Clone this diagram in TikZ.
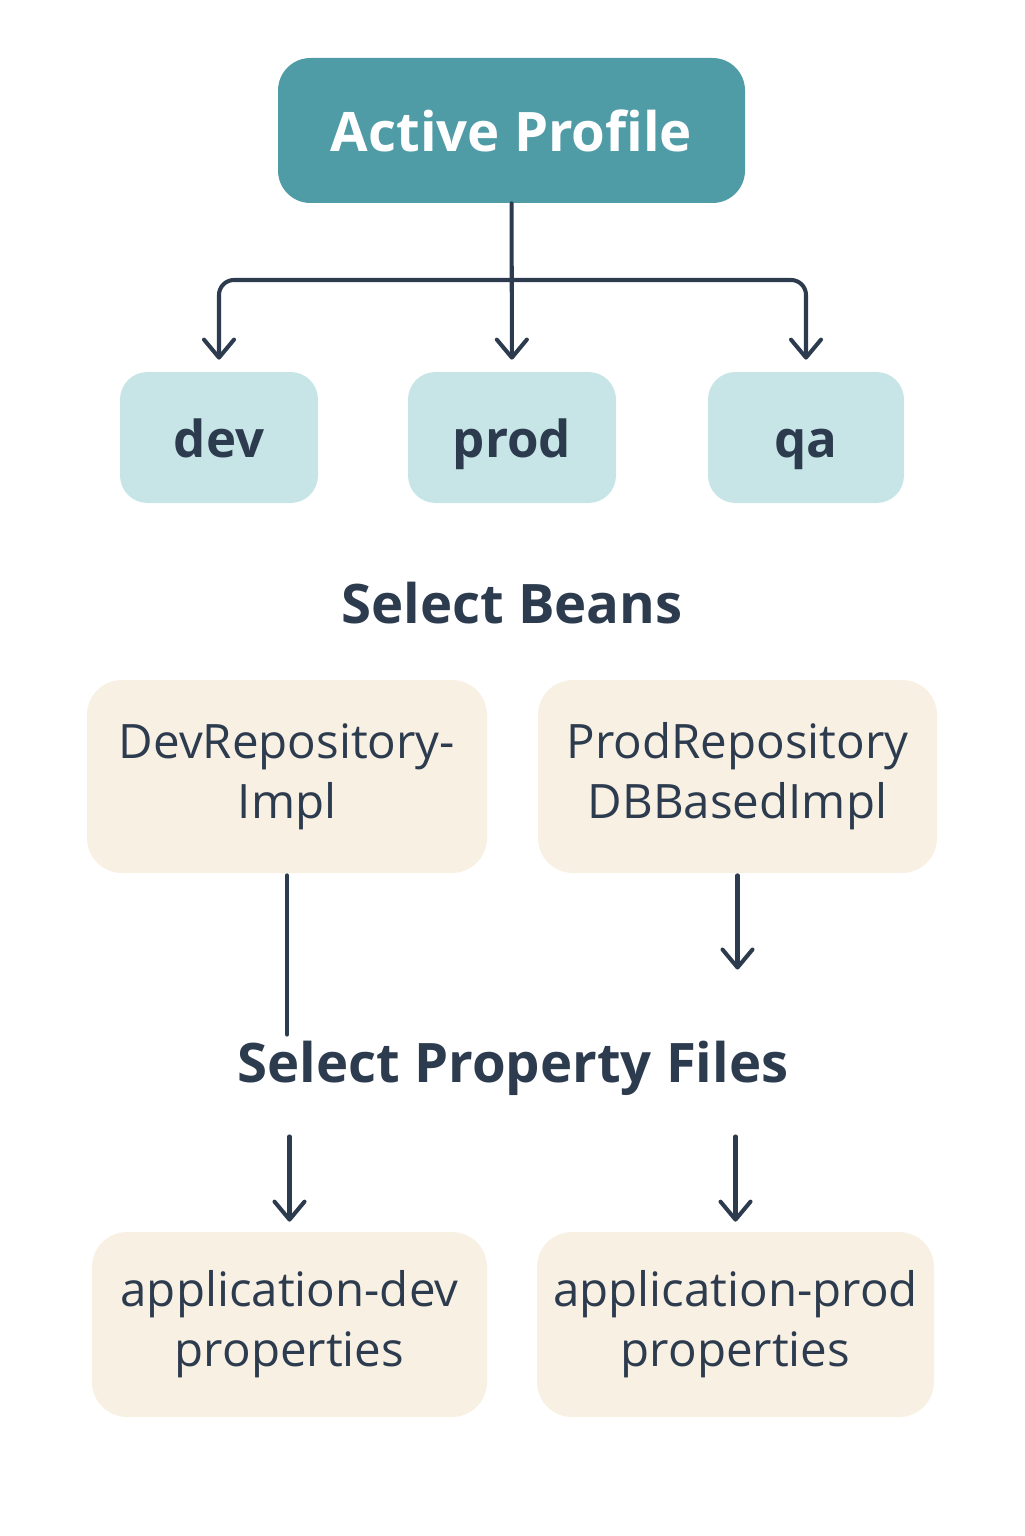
\documentclass[tikz,border=0pt]{standalone}
\usepackage{fontspec}
\setmainfont{Open Sans}
\usepackage{tikz}
\usetikzlibrary{positioning,arrows.meta}

\definecolor{tealbox}{HTML}{4F9BA6}
\definecolor{lightteal}{HTML}{C7E5E6}
\definecolor{creambox}{HTML}{F8F0E3}
\definecolor{inkline}{HTML}{2D3B4E}

\begin{document}
\begin{tikzpicture}[>={Straight Barb[length=3.6mm,width=6mm,line cap=round,line join=round]},
  every node/.style={text=inkline},
  profbox/.style={rounded corners=0.55cm, fill=lightteal, minimum height=2.62cm, text height=0.95cm, text depth=0.17cm, font=\fontsize{29}{34}\selectfont\bfseries},
  beanbox/.style={rounded corners=0.7cm, fill=creambox, minimum width=8cm, minimum height=3.86cm, align=center, font=\fontsize{27}{34}\selectfont},
  heading/.style={font=\fontsize{31}{36}\selectfont\bfseries},
  link/.style={draw=inkline, line width=2.3pt, line cap=round}]
  \useasboundingbox (0,0) rectangle (20.48,-30.72);
  \node[rounded corners=0.65cm, fill=tealbox, text=white, minimum width=9.34cm, minimum height=2.9cm, font=\fontsize{31}{36}\selectfont\bfseries] (active) at (10.23,-2.61) {Active Profile};
  \node[profbox, minimum width=3.96cm] (dev) at (4.38,-8.75) {dev};
  \node[profbox, minimum width=4.16cm] (prod) at (10.24,-8.75) {prod};
  \node[profbox, minimum width=3.92cm] (qa) at (16.12,-8.75) {qa};
  \coordinate (split) at (10.23,-5.6);
  \draw[link, ->, shorten >=0.24cm] (active) -- (prod);
  \draw[link, ->, rounded corners=0.3cm, shorten >=0.24cm] (split) -| (dev);
  \draw[link, ->, rounded corners=0.3cm, shorten >=0.24cm] (split) -| (qa);
  \node[heading] (beans) at (10.24,-12.06) {Select Beans};
  \node[beanbox] (devimpl) at (5.74,-15.53) {DevRepository-\\Impl};
  \node[beanbox, minimum width=7.98cm] (prodimpl) at (14.75,-15.53) {ProdRepository\\DBBasedImpl};
  \node[heading] (files) at (10.26,-21.36) {Select Property Files};
  \draw[link, shorten <=0.04cm] (devimpl) -- (devimpl |- files.north);
  \draw[link, ->, shorten <=0.04cm, shorten >=1.3cm] (prodimpl) -- (prodimpl |- files.north);
  \node[beanbox, minimum width=7.9cm, minimum height=3.7cm] (devprops) at (5.79,-26.49) {application-dev\\properties};
  \node[beanbox, minimum width=7.94cm, minimum height=3.7cm] (prodprops) at (14.71,-26.49) {application-prod\\properties};
  \draw[link, ->, shorten <=0.7cm, shorten >=0.2cm] (files.south -| devprops) -- (devprops);
  \draw[link, ->, shorten <=0.7cm, shorten >=0.2cm] (files.south -| prodprops) -- (prodprops);
\end{tikzpicture}
\end{document}
